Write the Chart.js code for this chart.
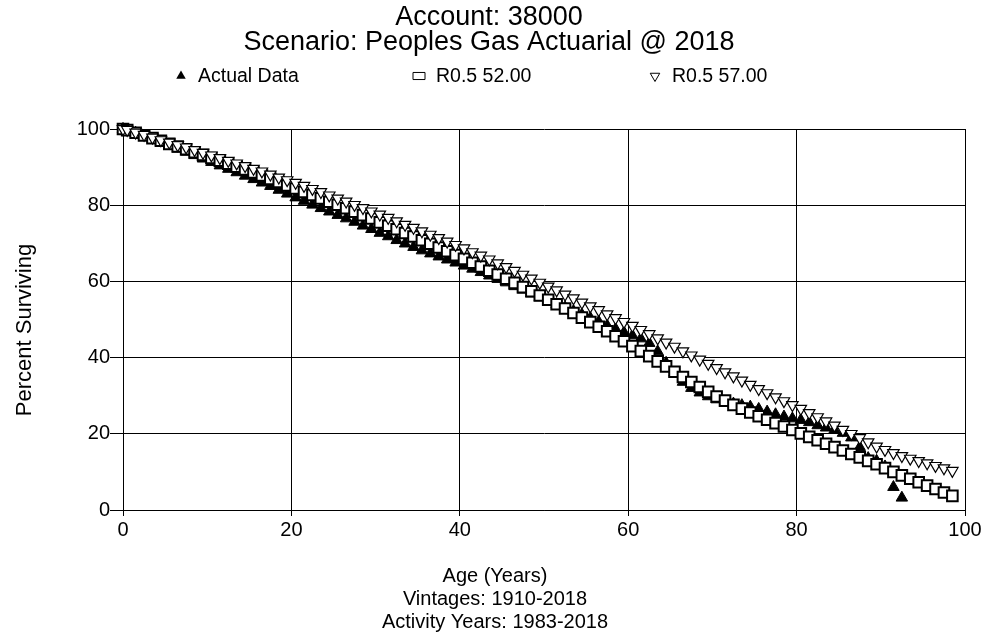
<!DOCTYPE html>
<html>
<head>
<meta charset="utf-8">
<title>Account 38000 - Survivor Curves</title>
<script src="https://cdn.jsdelivr.net/npm/chart.js@4.4.1/dist/chart.umd.min.js"></script>
<style>
  body { margin: 0; background: #fff; }
  #wrap { width: 986px; height: 641px; }
</style>
</head>
<body>
<div id="wrap"><canvas id="survivorChart" width="986" height="641"></canvas></div>
<script>
// chart text
const titleLines = ['Account: 38000', 'Scenario: Peoples Gas Actuarial @ 2018'];
const xTitleLines = ['Age (Years)', 'Vintages: 1910-2018', 'Activity Years: 1983-2018'];
const yTitle = 'Percent Surviving';
const seriesLabels = ['Actual Data', 'R0.5 52.00', 'R0.5 57.00'];
const xTicks = [0, 20, 40, 60, 80, 100];
const yTicks = [0, 20, 40, 60, 80, 100];

// ages in years (x values)
const ages = [
  0, 0.5, 1.5, 2.5, 3.5, 4.5, 5.5, 6.5, 7.5, 8.5, 9.5,
  10.5, 11.5, 12.5, 13.5, 14.5, 15.5, 16.5, 17.5, 18.5, 19.5,
  20.5, 21.5, 22.5, 23.5, 24.5, 25.5, 26.5, 27.5, 28.5, 29.5,
  30.5, 31.5, 32.5, 33.5, 34.5, 35.5, 36.5, 37.5, 38.5, 39.5,
  40.5, 41.5, 42.5, 43.5, 44.5, 45.5, 46.5, 47.5, 48.5, 49.5,
  50.5, 51.5, 52.5, 53.5, 54.5, 55.5, 56.5, 57.5, 58.5, 59.5,
  60.5, 61.5, 62.5, 63.5, 64.5, 65.5, 66.5, 67.5, 68.5, 69.5,
  70.5, 71.5, 72.5, 73.5, 74.5, 75.5, 76.5, 77.5, 78.5, 79.5,
  80.5, 81.5, 82.5, 83.5, 84.5, 85.5, 86.5, 87.5, 88.5, 89.5,
  90.5, 91.5, 92.5, 93.5, 94.5, 95.5, 96.5, 97.5, 98.5
];

// percent surviving, actual data (ages 0 .. 92.5)
const actualData = [
  100, 99.8, 99.0, 98.2, 97.4, 96.5, 95.7, 94.8, 94.0, 93.1, 92.2,
  91.3, 90.4, 89.5, 88.6, 87.7, 86.8, 85.9, 85.0, 84.0, 83.0,
  82.0, 81.1, 80.1, 79.2, 78.3, 77.4, 76.5, 75.6, 74.6, 73.7,
  72.7, 71.8, 70.8, 69.9, 69.0, 68.1, 67.3, 66.5, 65.7, 64.9,
  64.1, 63.3, 62.4, 61.5, 60.6, 59.7, 58.7, 57.8, 56.8, 55.8,
  54.9, 54.0, 53.1, 52.2, 51.3, 50.4, 49.4, 48.4, 47.5, 46.6,
  45.8, 45.0, 43.8, 41.6, 38.6, 36.0, 33.6, 32.0, 30.8, 29.8,
  29.0, 28.4, 27.9, 27.5, 27.1, 26.5, 25.8, 25.1, 24.5, 24.0,
  23.6, 23.0, 22.2, 21.6, 21.0, 20.2, 19.0, 16.5, 13.6, 12.9,
  11.4, 6.0, 3.2
];

// R0.5 Iowa curve, 52 year average life
const r52 = [
  100, 99.7, 99.0, 98.3, 97.6, 96.9, 96.1, 95.4, 94.7, 93.9, 93.2,
  92.4, 91.7, 90.9, 90.1, 89.4, 88.6, 87.8, 86.9, 86.1, 85.2,
  84.4, 83.5, 82.7, 81.8, 80.9, 80.1, 79.2, 78.3, 77.4, 76.5,
  75.5, 74.6, 73.7, 72.7, 71.8, 70.8, 69.9, 68.9, 67.9, 66.9,
  65.9, 64.9, 63.9, 62.8, 61.8, 60.7, 59.6, 58.5, 57.4, 56.3,
  55.2, 54.0, 52.9, 51.7, 50.5, 49.3, 48.1, 46.9, 45.6, 44.3,
  43.0, 41.7, 40.4, 39.0, 37.7, 36.3, 34.9, 33.6, 32.3, 31.0,
  29.8, 28.7, 27.6, 26.6, 25.6, 24.6, 23.7, 22.8, 21.9, 21.0,
  20.1, 19.2, 18.3, 17.4, 16.5, 15.6, 14.7, 13.8, 12.9, 12.0,
  11.0, 10.0, 9.1, 8.2, 7.3, 6.4, 5.5, 4.6, 3.7
];

// R0.5 Iowa curve, 57 year average life
const r57 = [
  100, 99.8, 99.1, 98.5, 97.8, 97.1, 96.5, 95.8, 95.2, 94.5, 93.8,
  93.1, 92.4, 91.7, 91.0, 90.3, 89.6, 88.9, 88.1, 87.3, 86.6,
  85.9, 85.1, 84.3, 83.5, 82.6, 81.8, 81.0, 80.1, 79.3, 78.4,
  77.6, 76.7, 75.8, 74.9, 74.1, 73.2, 72.3, 71.4, 70.5, 69.6,
  68.7, 67.7, 66.8, 65.8, 64.8, 63.8, 62.8, 61.8, 60.8, 59.7,
  58.7, 57.7, 56.6, 55.6, 54.5, 53.5, 52.5, 51.4, 50.4, 49.4,
  48.4, 47.3, 46.2, 45.1, 44.0, 42.9, 41.7, 40.6, 39.5, 38.4,
  37.3, 36.2, 35.1, 34.0, 32.9, 31.8, 30.7, 29.6, 28.6, 27.6,
  26.6, 25.5, 24.4, 23.3, 22.2, 21.1, 20.0, 18.9, 17.8, 16.7,
  15.8, 15.0, 14.2, 13.5, 12.9, 12.3, 11.6, 11.0, 10.3
];

const FONT = '"Liberation Sans", Arial, sans-serif';

const toPoints = (values) => values.map((v, i) => ({ x: ages[i], y: v }));

// titles, axis titles and the legend row are drawn here
const pageText = {
  id: 'pageText',
  afterDraw(chart) {
    const ctx = chart.ctx;
    ctx.save();
    ctx.fillStyle = '#000';
    ctx.textAlign = 'center';
    ctx.textBaseline = 'alphabetic';

    ctx.font = '27px ' + FONT;
    titleLines.forEach((t, i) => ctx.fillText(t, 489, 25 + i * 25));

    ctx.font = '20px ' + FONT;
    xTitleLines.forEach((t, i) => ctx.fillText(t, 495, 582 + i * 23));

    ctx.save();
    ctx.translate(31, 330);
    ctx.rotate(-Math.PI / 2);
    ctx.font = '22px ' + FONT;
    ctx.fillText(yTitle, 0, 0);
    ctx.restore();

    // legend
    const legendX = [181, 419, 655];
    ctx.font = '19.5px ' + FONT;
    ctx.textAlign = 'left';
    chart.data.datasets.forEach((ds, i) => {
      const cx = legendX[i];
      ctx.fillStyle = ds.backgroundColor;
      ctx.strokeStyle = ds.borderColor;
      ctx.lineWidth = 1;
      const opts = {
        pointStyle: ds.pointStyle,
        rotation: ds.rotation || 0,
        radius: ds.pointStyle === 'rect' ? 5 : 5.5,
        borderWidth: i === 0 ? 0 : 1
      };
      Chart.helpers.drawPointLegend(ctx, opts, cx, 76, ds.pointStyle === 'rect' ? 12 : null);
      ctx.fillStyle = '#000';
      ctx.fillText(ds.label, cx + 17, 82);
    });
    ctx.restore();
  }
};

const ctx = document.getElementById('survivorChart').getContext('2d');
new Chart(ctx, {
  type: 'scatter',
  data: {
    datasets: [
      {
        label: seriesLabels[0],
        data: toPoints(actualData),
        pointStyle: 'triangle',
        pointRadius: 6.6,
        backgroundColor: '#000',
        borderColor: '#000',
        borderWidth: 1,
        order: 3,
        clip: false
      },
      {
        label: seriesLabels[1],
        data: toPoints(r52),
        pointStyle: 'rect',
        pointRadius: 7.5,
        backgroundColor: '#fff',
        borderColor: '#000',
        borderWidth: 2,
        order: 2,
        clip: false
      },
      {
        label: seriesLabels[2],
        data: toPoints(r57),
        pointStyle: 'triangle',
        rotation: 180,
        pointRadius: 6.6,
        backgroundColor: '#fff',
        borderColor: '#000',
        borderWidth: 1.2,
        order: 1,
        clip: false
      }
    ]
  },
  options: {
    responsive: false,
    animation: false,
    events: [],
    layout: { padding: { top: 129, right: 21, bottom: 0, left: 0 } },
    plugins: {
      legend: { display: false },
      title: { display: false },
      tooltip: { enabled: false }
    },
    scales: {
      x: {
        type: 'linear',
        min: 0,
        max: 100,
        afterFit: (scale) => { scale.height = 131; },
        afterBuildTicks: (scale) => { scale.ticks = xTicks.map(v => ({ value: v })); },
        ticks: { color: '#000', padding: 2, font: { family: FONT, size: 20 } },
        grid: { color: '#000', lineWidth: 1, tickLength: 6 },
        border: { color: '#000', width: 1 }
      },
      y: {
        min: 0,
        max: 100,
        afterFit: (scale) => { scale.width = 123; },
        afterBuildTicks: (scale) => { scale.ticks = yTicks.map(v => ({ value: v })); },
        ticks: { color: '#000', padding: 0, font: { family: FONT, size: 20 } },
        grid: { color: '#000', lineWidth: 1, tickLength: 13 },
        border: { color: '#000', width: 1 }
      }
    }
  },
  plugins: [pageText]
});
</script>
</body>
</html>
